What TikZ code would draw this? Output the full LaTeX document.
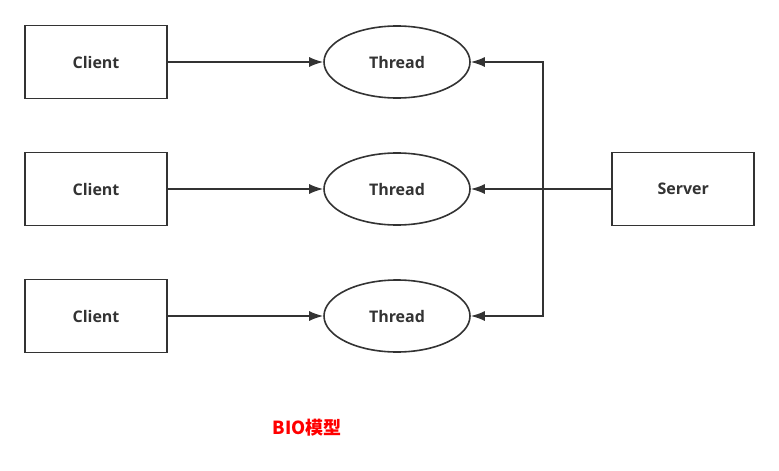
\documentclass[tikz,border=0pt]{standalone}
\usepackage{fontspec}
\setmainfont{Open Sans}
\newfontfamily\cjk{Noto Sans CJK SC}
\usepackage{tikz}
\usetikzlibrary{positioning, shapes.geometric, arrows.meta}
\tikzstyle{client} = [rectangle, minimum width=142pt, minimum height=73pt, inner sep=0pt, text centered, draw=black!80, line width=1.6pt, font=\fontsize{16}{19}\selectfont\bfseries, text=black!80]
\tikzstyle{thread} = [ellipse, minimum width=146pt, minimum height=72pt, inner sep=0pt, text centered, draw=black!80, line width=1.6pt, font=\fontsize{16}{19}\selectfont\bfseries, text=black!80]
\tikzstyle{conn}   = [-{Latex[length=14pt,width=10pt]}, line width=1.6pt, draw=black!80]
\begin{document}
\begin{tikzpicture}[x=1pt, y=-1pt, node distance=52.4pt and 155.4pt]
            \useasboundingbox (0,0) rectangle (779,471);
            \node[client] (c1) at (96,62) {Client};
            \node[client] (c2) [below=of c1] {Client};
            \node[client] (c3) [below=of c2] {Client};
            \node[thread] (t1) [right=of c1] {Thread};
            \node[thread] (t2) [right=of c2] {Thread};
            \node[thread] (t3) [right=of c3] {Thread};
            \node[client] (server) [right=140.6pt of t2] {Server};
            \coordinate (bus) at (543,189);
            \node[font=\cjk\fontsize{18}{21}\selectfont\bfseries, text=red] (title) at (307,428) {BIO模型};

            \draw[conn] (c1.east) -- (t1.west);
            \draw[conn] (c2.east) -- (t2.west);
            \draw[conn] (c3.east) -- (t3.west);
            \draw[conn] (server.west) -- (t2.east);
            \draw[conn] (bus) |- (t1.east);
            \draw[conn] (bus) |- (t3.east);
        \end{tikzpicture}
\end{document}
